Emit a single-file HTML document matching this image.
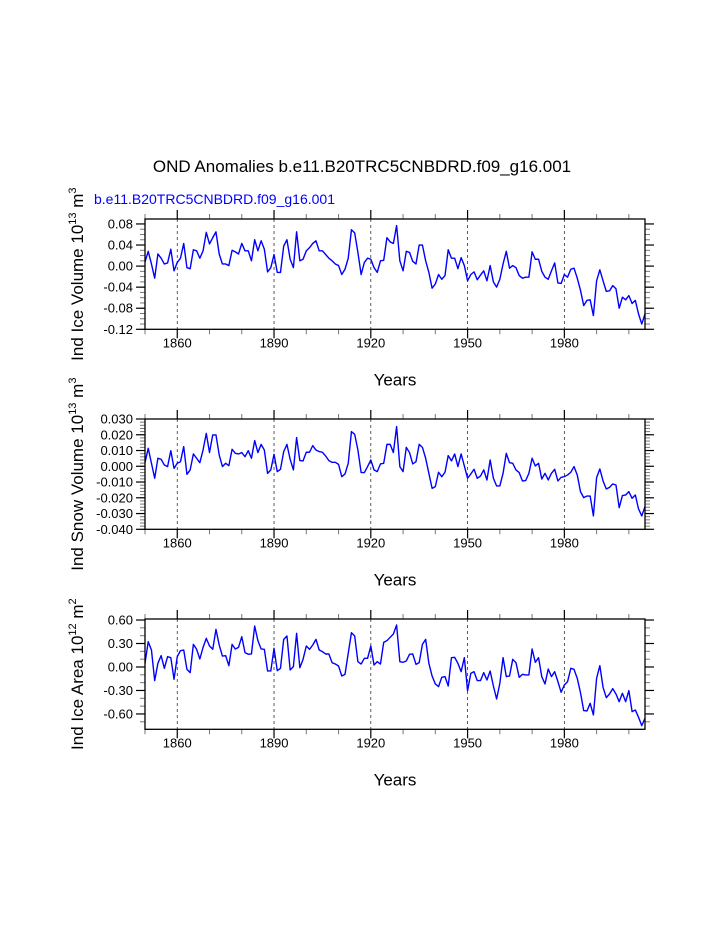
<!DOCTYPE html>
<html><head><meta charset="utf-8"><style>
html,body{margin:0;padding:0;background:#fff}
svg{display:block;font-family:"Liberation Sans",sans-serif}
</style></head><body>
<svg id="chart" width="723" height="935" viewBox="0 0 723 935" xmlns="http://www.w3.org/2000/svg">
<text x="362" y="172" text-anchor="middle" font-size="17">OND Anomalies b.e11.B20TRC5CNBDRD.f09_g16.001</text>
<text x="94" y="204" font-size="14" fill="#0000ff">b.e11.B20TRC5CNBDRD.f09_g16.001</text>
</svg>
<script>
const startYear = 1850;
const iceVolume = [0.008,0.028,0.004,-0.023,0.023,0.015,0.004,0.006,0.032,-0.009,0.007,0.015,0.043,-0.003,-0.005,0.031,0.029,0.015,0.029,0.064,0.042,0.054,0.065,0.023,0.004,0.004,0.001,0.030,0.027,0.023,0.043,0.029,0.029,0.010,0.050,0.029,0.048,0.032,-0.011,-0.003,0.022,-0.012,-0.012,0.038,0.050,0.013,-0.003,0.065,0.010,0.013,0.029,0.035,0.043,0.048,0.029,0.029,0.022,0.015,0.010,0.004,0.001,-0.016,-0.006,0.015,0.069,0.063,0.026,-0.016,0.007,0.015,0.013,-0.003,-0.012,0.010,0.011,0.054,0.046,0.043,0.077,0.010,-0.009,0.028,0.026,0.009,0.004,0.040,0.040,0.010,-0.012,-0.042,-0.034,-0.016,-0.025,-0.018,0.031,0.015,0.015,-0.005,0.016,0.001,-0.028,-0.016,-0.011,-0.026,-0.017,-0.009,-0.028,0.001,-0.030,-0.040,-0.025,0.004,0.028,-0.004,0.001,-0.003,-0.018,-0.023,-0.021,-0.021,0.027,0.013,0.013,-0.010,-0.021,-0.025,-0.009,0.006,-0.032,-0.033,-0.016,-0.021,-0.006,-0.004,-0.023,-0.046,-0.075,-0.065,-0.064,-0.094,-0.028,-0.007,-0.028,-0.048,-0.047,-0.037,-0.043,-0.080,-0.059,-0.064,-0.056,-0.071,-0.065,-0.091,-0.110,-0.091];
const snowVolume = [0.0023,0.0114,0.0019,-0.0076,0.0051,0.0044,0.0008,-0.0002,0.0099,-0.0013,0.0019,0.0029,0.0125,-0.0051,-0.0023,0.0078,0.0051,0.0023,0.0103,0.0209,0.0087,0.0199,0.0199,0.0072,-0.0002,0.0019,0.0004,0.0108,0.0082,0.0078,0.0087,0.0061,0.0099,0.0051,0.0163,0.0087,0.0139,0.0103,-0.0045,-0.0023,0.0076,-0.0034,-0.0019,0.0093,0.0139,0.0044,-0.0023,0.0182,0.0036,0.0034,0.0089,0.0089,0.0131,0.0103,0.0093,0.0089,0.0065,0.0036,0.0025,0.0025,0.0012,-0.0066,-0.0049,0.0019,0.0220,0.0203,0.0103,-0.0040,-0.0040,-0.0002,0.0040,-0.0023,-0.0034,0.0015,0.0019,0.0139,0.0139,0.0087,0.0252,-0.0002,-0.0034,0.0120,0.0087,0.0015,0.0029,0.0139,0.0120,0.0051,-0.0045,-0.0140,-0.0129,-0.0038,-0.0066,-0.0038,0.0068,0.0034,0.0078,-0.0002,0.0078,0.0002,-0.0076,-0.0049,-0.0019,-0.0076,-0.0062,-0.0023,-0.0087,0.0040,-0.0076,-0.0125,-0.0125,-0.0045,0.0082,0.0023,0.0019,-0.0023,-0.0040,-0.0093,-0.0091,-0.0045,0.0051,0.0002,0.0019,-0.0081,-0.0045,-0.0087,-0.0045,-0.0019,-0.0093,-0.0070,-0.0066,-0.0055,-0.0038,-0.0002,-0.0055,-0.0161,-0.0199,-0.0189,-0.0189,-0.0315,-0.0072,-0.0017,-0.0093,-0.0144,-0.0134,-0.0112,-0.0119,-0.0263,-0.0186,-0.0182,-0.0161,-0.0203,-0.0182,-0.0271,-0.0315,-0.0256];
const iceArea = [0.047,0.323,0.217,-0.174,0.047,0.145,-0.017,0.132,0.119,-0.157,0.132,0.209,0.217,-0.030,-0.072,0.289,0.226,0.102,0.251,0.366,0.268,0.226,0.481,0.281,0.140,0.145,0.017,0.289,0.230,0.251,0.387,0.183,0.162,0.166,0.523,0.336,0.230,0.226,-0.051,-0.051,0.238,-0.047,-0.017,0.353,0.396,-0.038,0.004,0.430,-0.009,0.098,0.268,0.226,0.281,0.353,0.217,0.196,0.166,0.166,0.055,0.038,0.013,-0.115,-0.094,0.174,0.438,0.396,0.068,0.038,0.111,0.111,0.268,0.026,0.068,0.038,0.315,0.336,0.379,0.421,0.536,0.068,0.060,0.077,0.162,0.166,0.034,0.055,0.289,0.353,0.047,-0.115,-0.217,-0.251,-0.132,-0.123,-0.243,0.119,0.123,0.047,-0.060,0.119,-0.302,-0.081,-0.060,-0.174,-0.174,-0.072,-0.166,-0.051,-0.243,-0.409,-0.209,0.119,-0.123,-0.115,0.098,0.055,-0.132,-0.094,-0.102,-0.102,0.230,0.060,0.119,-0.123,-0.217,-0.026,-0.123,-0.060,-0.187,-0.323,-0.230,-0.187,-0.017,-0.030,-0.145,-0.328,-0.557,-0.562,-0.464,-0.613,-0.145,0.017,-0.260,-0.391,-0.345,-0.277,-0.345,-0.443,-0.336,-0.443,-0.302,-0.570,-0.549,-0.643,-0.749,-0.655];
const xTickYears = [1860,1890,1920,1950,1980];
const iceVolTicks = ["0.08","0.04","0.00","-0.04","-0.08","-0.12"];
const snowVolTicks = ["0.030","0.020","0.010","0.000","-0.010","-0.020","-0.030","-0.040"];
const iceAreaTicks = ["0.60","0.30","0.00","-0.30","-0.60"];

const NS = "http://www.w3.org/2000/svg";
const svg = document.getElementById('chart');
function mk(tag, attrs, parent){ const e=document.createElementNS(NS,tag); for(const k in attrs) e.setAttribute(k,attrs[k]); (parent||svg).appendChild(e); return e; }

const X0=145, X1=645, YR0=1850, YR1=2005;
const xScale = yr => X0 + (yr-YR0)/(YR1-YR0)*(X1-X0);

const panels = [
 {key:'ice-volume', top:219, data:iceVolume, ymin:-0.12, ymax:0.0894, ticks:iceVolTicks, minor:0.01, title:['Ind Ice Volume 10','13',' m','3']},
 {key:'snow-volume', top:419, data:snowVolume, ymin:-0.04, ymax:0.03, ticks:snowVolTicks, minor:0.002, title:['Ind Snow Volume 10','13',' m','3']},
 {key:'ice-area', top:619, data:iceArea, ymin:-0.796, ymax:0.613, ticks:iceAreaTicks, minor:0.1, title:['Ind Ice Area 10','12',' m','2']}
];
const H=110.3;

panels.forEach(p=>{
  const g = mk('g',{});
  
  
  const yS = v => p.top + (p.ymax-v)/(p.ymax-p.ymin)*H;
  const bot = p.top+H;
  xTickYears.forEach(yr=>{
    const l=mk('line',{x1:xScale(yr),x2:xScale(yr),y1:p.top,y2:bot,stroke:'#333','stroke-width':0.8,'stroke-dasharray':'3,3'},g);
    
    
  });
  for(let yr=1850; yr<=2005; yr+=10){
    const major = xTickYears.includes(yr);
    const len = major?9:5;
    const x=xScale(yr);
    mk('line',{x1:x,x2:x,y1:p.top,y2:p.top-len,stroke:major?'#000':'#777','stroke-width':major?1.2:1},g);
    mk('line',{x1:x,x2:x,y1:bot,y2:bot+len,stroke:major?'#000':'#777','stroke-width':major?1.2:1},g);
  }
  xTickYears.forEach(yr=>{
    const t=mk('text',{x:xScale(yr),y:bot+18,'text-anchor':'middle','font-size':13},g);
    t.textContent=yr;
    
    
  });
  const nMin=Math.ceil(p.ymin/p.minor-1e-6), nMax=Math.floor(p.ymax/p.minor+1e-6);
  for(let i=nMin;i<=nMax;i++){
    const y=yS(i*p.minor);
    mk('line',{x1:X0,x2:X0-5,y1:y,y2:y,stroke:'#777','stroke-width':1},g);
    mk('line',{x1:X1,x2:X1+5,y1:y,y2:y,stroke:'#777','stroke-width':1},g);
  }
  p.ticks.forEach(s=>{
    const y=yS(parseFloat(s));
    mk('line',{x1:X0,x2:X0-9,y1:y,y2:y,stroke:'#000','stroke-width':1.2},g);
    mk('line',{x1:X1,x2:X1+9,y1:y,y2:y,stroke:'#000','stroke-width':1.2},g);
    const t=mk('text',{x:X0-12,y:y+4.5,'text-anchor':'end','font-size':13},g);
    t.textContent=s;
    
    
  });
  const pts = p.data.map((v,i)=>xScale(startYear+i).toFixed(2)+','+yS(v).toFixed(2)).join(' ');
  const line=mk('polyline',{points:pts,fill:'none',stroke:'#0000ff','stroke-width':1.4,'stroke-linejoin':'round'},g);
  
  
  const fr=mk('rect',{x:X0,y:p.top,width:X1-X0,height:H,fill:'none',stroke:'#000','stroke-width':1.3},g);
  
  
  const xt=mk('text',{x:395,y:bot+56,'text-anchor':'middle','font-size':17},g);
  xt.textContent='Years';
  
  
  const cy=p.top+H/2;
  const yt=mk('text',{x:0,y:0,'text-anchor':'middle','font-size':17,transform:`translate(83,${cy}) rotate(-90)`},g);
  
  
  const a=mk('tspan',{},yt); a.textContent=p.title[0];
  const b=mk('tspan',{dy:-7,'font-size':11},yt); b.textContent=p.title[1];
  const c=mk('tspan',{dy:7},yt); c.textContent=p.title[2];
  const d=mk('tspan',{dy:-7,'font-size':11},yt); d.textContent=p.title[3];
});
</script>
</body></html>
